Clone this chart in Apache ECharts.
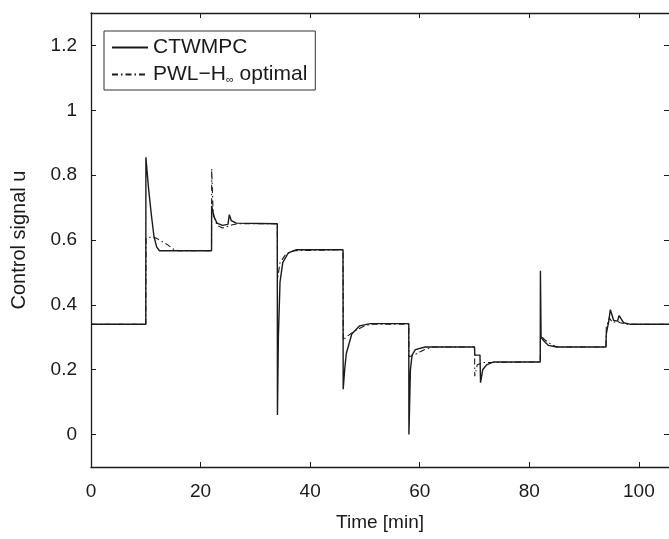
<!DOCTYPE html>
<html><head><meta charset="utf-8">
<script src="https://cdn.jsdelivr.net/npm/echarts@6/dist/echarts.min.js"></script>
<style>html,body{margin:0;padding:0;background:#fff}#c{width:669px;height:539px}</style>
</head><body><div id="c"></div>
<script>
// CTWMPC (solid)
const ctwmpcTime = [0,10,10.02,10.5,11,11.5,12,12.5,22,22.02,22.5,23,24,25,25.25,25.6,26.5,34,34.03,34.2,34.5,35,36,37.5,46,46.03,46.3,46.6,47.6,49,51,58,58.03,58.3,58.6,59.2,61,70,70.05,71.0,71.1,71.5,72.2,73.5,82,82.03,82.15,82.6,83.5,85,94,94.05,94.5,94.8,95.4,96.1,96.4,97.2,98.5,106];
const ctwmpcU    = [0.34,0.34,0.855,0.76,0.68,0.61,0.578,0.567,0.567,0.705,0.67,0.652,0.645,0.648,0.678,0.66,0.652,0.65,0.06,0.3,0.47,0.53,0.56,0.57,0.57,0.14,0.2,0.25,0.31,0.335,0.342,0.342,0.0,0.2,0.245,0.262,0.27,0.27,0.245,0.245,0.16,0.2,0.215,0.224,0.224,0.505,0.3,0.29,0.275,0.27,0.27,0.31,0.35,0.385,0.352,0.35,0.367,0.345,0.34,0.34];
// PWL-H∞ optimal (dash-dot)
const pwlTime = [0,10,10.05,11,12,13,14,15,16,22,22.03,22.3,23,24,25,26,27,34,34.05,34.5,35.5,37,46,46.05,46.5,48,49.5,51,58,58.05,59,60,61,62.5,70,70.05,70.5,71.5,82,82.05,83,84,85,94,94.05,94.6,95.2,96,96.6,98,106];
const pwlU    = [0.34,0.34,0.605,0.61,0.605,0.595,0.585,0.572,0.567,0.567,0.82,0.68,0.645,0.637,0.642,0.648,0.65,0.65,0.48,0.53,0.555,0.567,0.57,0.29,0.3,0.318,0.332,0.34,0.34,0.24,0.245,0.255,0.263,0.27,0.27,0.18,0.215,0.222,0.224,0.305,0.29,0.278,0.27,0.27,0.33,0.36,0.345,0.35,0.345,0.34,0.34];
const xTicks = [0,20,40,60,80,100];
const yTicks = [0,0.2,0.4,0.6,0.8,1,1.2];

const zip = (a,b)=>a.map((v,i)=>[v,b[i]]);
const font = 'Liberation Sans, Arial, sans-serif';
const fs = 19;
const XMAX = 105.5;
const chart = echarts.init(document.getElementById('c'), null, {renderer:'canvas'});
const axisCommon = () => ({
  axisLine:{show:true,onZero:false,lineStyle:{color:'#1a1a1a',width:1.3}},
  axisTick:{show:true,inside:true,length:5,lineStyle:{color:'#1a1a1a',width:1}},
  splitLine:{show:false}
});
chart.setOption({
  animation:false,
  backgroundColor:'#fff',
  grid:{left:91,right:0,top:13,bottom:72},
  legend:{
    left:104, top:31, orient:'vertical',
    borderColor:'#333', borderWidth:1, padding:[6,8,5,7],
    itemWidth:36, itemHeight:18, itemGap:6,
    itemStyle:{opacity:0},
    textStyle:{fontFamily:font,fontSize:21,color:'#1a1a1a',
      rich:{a:{fontFamily:font,fontSize:21,color:'#1a1a1a'},
            s:{fontFamily:font,fontSize:11,color:'#1a1a1a',verticalAlign:'bottom',padding:[10,0,0,0]}}},
    formatter: n => n==='PWL' ? '{a|PWL\u2212H}{s|\u221e}{a| optimal}' : n,
    data:[{name:'CTWMPC'},{name:'PWL'}]
  },
  xAxis:[
    Object.assign({type:'value',position:'bottom',min:0,max:XMAX,interval:20,
      name:'Time [min]',nameLocation:'middle',nameGap:46,
      nameTextStyle:{fontFamily:font,fontSize:fs,color:'#1a1a1a'},
      axisLabel:{fontFamily:font,fontSize:fs,color:'#1a1a1a',margin:15,showMaxLabel:false,
        formatter:v=>xTicks.includes(v)?String(v):''}},axisCommon()),
    Object.assign({type:'value',position:'top',min:0,max:XMAX,interval:20,
      axisLabel:{show:false}},axisCommon())
  ],
  yAxis:[
    Object.assign({type:'value',position:'left',min:-0.1,max:1.3,splitNumber:7,
      name:'Control signal u',nameLocation:'middle',nameGap:62,
      nameTextStyle:{fontFamily:font,fontSize:20,color:'#1a1a1a'},
      axisLabel:{fontFamily:font,fontSize:fs,color:'#1a1a1a',margin:14,showMinLabel:false,showMaxLabel:false,
        formatter:v=>{const r=Math.round(v*10)/10; return yTicks.some(t=>Math.abs(t-r)<1e-9)&&Math.abs(v-r)<1e-9?String(r):'';}}},axisCommon()),
    Object.assign({type:'value',position:'right',min:-0.1,max:1.3,splitNumber:7,
      axisLabel:{show:false}},axisCommon(),{axisLine:{show:false,onZero:false}})
  ],
  series:[
    {name:'CTWMPC',type:'line',data:zip(ctwmpcTime,ctwmpcU),showSymbol:false,symbol:'none',
      lineStyle:{color:'#1a1a1a',width:1.4,type:'solid'},itemStyle:{color:'#1a1a1a'},z:3},
    {name:'PWL',type:'line',data:zip(pwlTime,pwlU),showSymbol:false,symbol:'none',
      lineStyle:{color:'#1a1a1a',width:1.1,type:[6,3,1.5,3]},itemStyle:{color:'#1a1a1a'},z:2}
  ]
});
</script></body></html>
